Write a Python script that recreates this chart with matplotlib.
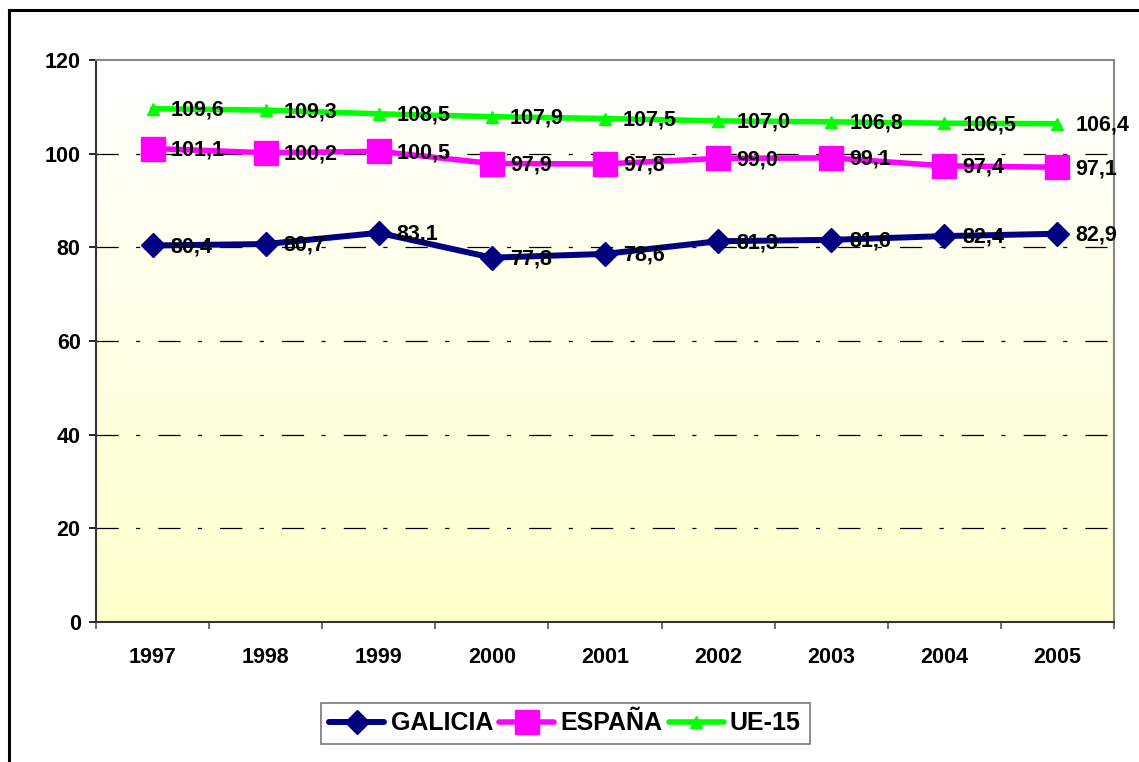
import matplotlib.pyplot as plt
import numpy as np
from matplotlib.lines import Line2D

plt.rcParams["font.family"] = ["Liberation Sans", "DejaVu Sans"]
plt.rcParams["font.weight"] = "bold"
plt.rcParams["lines.scale_dashes"] = False

years = ["1997", "1998", "1999", "2000", "2001", "2002", "2003", "2004", "2005"]
galicia = [80.4, 80.7, 83.1, 77.8, 78.6, 81.3, 81.6, 82.4, 82.9]
espana = [101.1, 100.2, 100.5, 97.9, 97.8, 99.0, 99.1, 97.4, 97.1]
ue15 = [109.6, 109.3, 108.5, 107.9, 107.5, 107.0, 106.8, 106.5, 106.4]
series_names = ["GALICIA", "ESPAÑA", "UE-15"]

W, H = 1139, 762
fig = plt.figure(figsize=(W / 100, H / 100), dpi=100)
ax = fig.add_axes([96 / W, 1 - 622 / H, (1114 - 96) / W, (622 - 60) / H])

# outer frame (top and left edges only visible)
fig.add_artist(Line2D([9 / W, 1.0], [1 - 10 / H, 1 - 10 / H], color="black", lw=2.2,
                      transform=fig.transFigure))
fig.add_artist(Line2D([9 / W, 9 / W], [0, 1 - 10 / H], color="black", lw=2.2,
                      transform=fig.transFigure))

x = np.arange(len(years))
ax.set_xlim(-0.5, len(years) - 0.5)
ax.set_ylim(0, 120)

# gradient background: white at top -> light yellow at bottom
grad = np.linspace(0, 1, 256)[:, None]
top = np.array([1.0, 1.0, 1.0])
bottom = np.array([1.0, 1.0, 0.8])
img = top + (bottom - top) * grad[..., None]
ax.imshow(img, extent=[-0.5, len(years) - 0.5, 0, 120], origin="upper",
          aspect="auto", zorder=0)

for yv in [20, 40, 60, 80, 100]:
    ax.axhline(yv, color="black", lw=0.9, linestyle=(0, (16, 12.5, 3, 13)), zorder=1)

styles = [
    (galicia, "#000080", "D", 12, 4.3),
    (espana, "#FF00FF", "s", 17, 4.0),
    (ue15, "#00FF00", "^", 9, 4.0),
]
for (vals, color, marker, ms, lw), name in zip(styles, series_names):
    ax.plot(x, vals, color=color, marker=marker, markersize=ms, lw=lw,
            label=name, zorder=3, solid_capstyle="round")
    for xi, v in zip(x, vals):
        ax.annotate(f"{v:.1f}".replace(".", ","), (xi, v), xytext=(13, -1),
                    textcoords="offset points", ha="left", va="center",
                    fontsize=15.5, fontweight="bold", zorder=4)

ax.set_yticks([0, 20, 40, 60, 80, 100, 120])
ax.set_xticks(x)
ax.set_xticklabels(years)
ax.set_xticks(np.arange(-0.5, len(years), 1.0), minor=True)
ax.tick_params(axis="x", which="major", length=0, pad=18, labelsize=15.5)
ax.tick_params(axis="x", which="minor", length=5, width=1.2, color="#555555")
ax.tick_params(axis="y", length=5, width=1.2, labelsize=15.5, pad=6)
for lab in ax.get_xticklabels() + ax.get_yticklabels():
    lab.set_fontweight("bold")

ax.spines["left"].set_color("#333333")
ax.spines["bottom"].set_color("#333333")
ax.spines["left"].set_linewidth(1.5)
ax.spines["bottom"].set_linewidth(1.5)
ax.spines["top"].set_color("#888888")
ax.spines["right"].set_color("#888888")
ax.spines["top"].set_linewidth(1.5)
ax.spines["right"].set_linewidth(1.5)

leg = fig.legend(loc="center", bbox_to_anchor=(565 / W, 1 - 723.5 / H), ncol=3,
                 frameon=True, fancybox=False, edgecolor="#555555",
                 prop={"size": 18, "weight": "bold"}, handlelength=2.2,
                 handletextpad=0.25, columnspacing=0.25, borderpad=0.35,
                 borderaxespad=0)
leg.get_frame().set_linewidth(1.2)

fig.savefig("out.png", dpi=100)
